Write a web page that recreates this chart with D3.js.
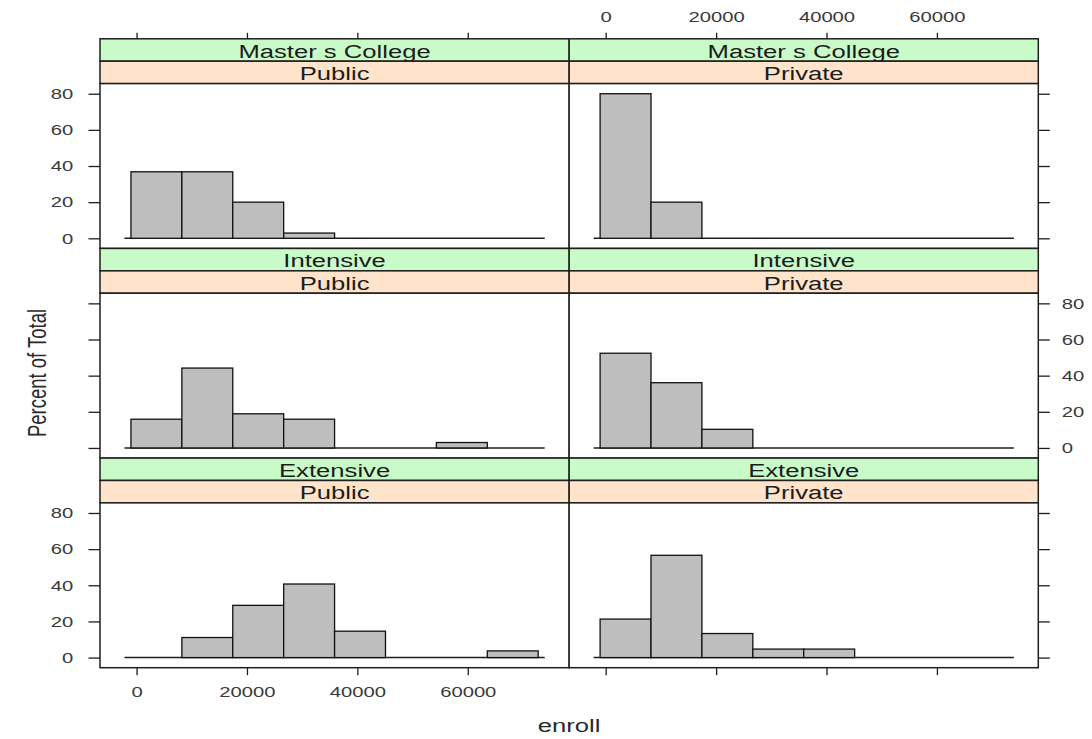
<!DOCTYPE html>
<html>
<head>
<meta charset="utf-8">
<script src="https://cdn.jsdelivr.net/npm/d3@7"></script>
<style>
  body { margin: 0; background: #fff; }
  svg { display: block; }
</style>
</head>
<body>
<svg id="chart" width="1092" height="739"></svg>
<script>
// Conditioning levels: rows (top to bottom) and columns (left to right)
const typeLevels = ["Master s College", "Intensive", "Extensive"];
const controlLevels = ["Public", "Private"];

// Shared histogram breaks for enroll
const breaks = [-1015, 8207, 17429, 26651, 35873, 45095, 54317, 63539, 72761];

// Percent of total in each bin, per panel
const pctMasterPublic     = [36.8, 36.8, 20.0, 2.9, 0, 0, 0, 0];
const pctMasterPrivate    = [80.0, 20.0, 0, 0, 0, 0, 0, 0];
const pctIntensivePublic  = [15.9, 44.2, 18.9, 15.9, 0, 0, 3.0, 0];
const pctIntensivePrivate = [52.4, 36.1, 10.3, 0, 0, 0, 0, 0];
const pctExtensivePublic  = [0, 11.1, 28.9, 40.7, 14.6, 0, 0, 3.7];
const pctExtensivePrivate = [21.3, 56.6, 13.3, 4.7, 4.7, 0, 0, 0];

// Axis ticks and titles
const xTicks = [0, 20000, 40000, 60000];
const yTicks = [0, 20, 40, 60, 80];
const xTitle = "enroll";
const yTitle = "Percent of Total";

const pctByPanel = [
  [pctMasterPublic, pctMasterPrivate],
  [pctIntensivePublic, pctIntensivePrivate],
  [pctExtensivePublic, pctExtensivePrivate]
];

// ---- appearance ----
const FONT = "'Liberation Sans', Arial, Helvetica, sans-serif";
const SX = 1.35;                 // horizontal text stretch
const INK = "#1e1e1e";
const BAR_FILL = "#bebebe";
const STRIP_TOP = "#c9fbc9";     // outer conditioning strip
const STRIP_BOTTOM = "#ffe3ca";  // inner conditioning strip

const svg = d3.select("#chart");
const box = { left: 100, right: 1038.3, top: 38.8, bottom: 667.7 };
const nRows = typeLevels.length, nCols = controlLevels.length;
const colW = (box.right - box.left) / nCols;
const rowH = (box.bottom - box.top) / nRows;
const stripH = 22.4;
const panelH = rowH - 2 * stripH;

// scales (same for all panels)
const span = breaks[breaks.length - 1] - breaks[0];
const x = d3.scaleLinear()
  .domain([breaks[0] - 0.076 * span, breaks[breaks.length - 1] + 0.076 * span])
  .range([0, colW]);
const yMax = d3.max(pctByPanel.flat(2));
const y = d3.scaleLinear()
  .domain([-0.07 * yMax, yMax * 1.07])
  .range([panelH, 0]);

const bins = d3.range(breaks.length - 1).map(i => ({ x0: breaks[i], x1: breaks[i + 1] }));

function styleAxis(g) {
  g.select(".domain").remove();
  g.selectAll(".tick line").attr("stroke", INK).attr("stroke-width", 1.3);
  g.selectAll(".tick text")
    .attr("font-family", FONT)
    .attr("font-size", 15)
    .attr("fill", "#3a3a3a");
}

typeLevels.forEach((typ, r) => {
  controlLevels.forEach((ctl, c) => {
    const pct = pctByPanel[r][c];
    const cell = svg.append("g")
      .attr("transform", `translate(${box.left + c * colW},${box.top + r * rowH})`);

    // strips
    const strips = [
      { label: typ, fill: STRIP_TOP },
      { label: ctl, fill: STRIP_BOTTOM }
    ];
    strips.forEach((s, k) => {
      cell.append("rect")
        .attr("x", 0).attr("y", k * stripH)
        .attr("width", colW).attr("height", stripH)
        .attr("fill", s.fill)
        .attr("stroke", INK).attr("stroke-width", 1.5);
      cell.append("text")
        .attr("transform", `translate(${colW / 2},${(k + 1) * stripH - 3.6}) scale(${SX},1)`)
        .attr("text-anchor", "middle")
        .attr("font-family", FONT)
        .attr("font-size", 19)
        .attr("fill", "#1c1c1c")
        .text(s.label);
    });

    // panel
    const panel = cell.append("g").attr("transform", `translate(0,${2 * stripH})`);
    panel.append("rect")
      .attr("width", colW).attr("height", panelH)
      .attr("fill", "#fff");

    // zero line across the binned range
    panel.append("line")
      .attr("x1", x(breaks[0] - 0.016 * span))
      .attr("x2", x(breaks[breaks.length - 1] + 0.016 * span))
      .attr("y1", y(0)).attr("y2", y(0))
      .attr("stroke", INK).attr("stroke-width", 1.5);

    panel.selectAll("rect.bar")
      .data(bins.map((b, i) => ({ ...b, v: pct[i] })).filter(d => d.v > 0))
      .join("rect")
      .attr("class", "bar")
      .attr("x", d => x(d.x0))
      .attr("width", d => x(d.x1) - x(d.x0))
      .attr("y", d => y(d.v))
      .attr("height", d => y(0) - y(d.v))
      .attr("fill", BAR_FILL)
      .attr("stroke", "#111")
      .attr("stroke-width", 1.3);

    panel.append("rect")
      .attr("width", colW).attr("height", panelH)
      .attr("fill", "none")
      .attr("stroke", INK).attr("stroke-width", 1.5);

    // x axes: top of first row, bottom of last row, labels alternating
    if (r === 0) {
      const showLab = (c % 2 === 1);
      const gx = cell.append("g")
        .call(d3.axisTop(x).tickValues(xTicks).tickSize(6)
          .tickFormat(showLab ? d3.format("d") : ""));
      styleAxis(gx);
      gx.selectAll(".tick text")
        .attr("y", -16.5).attr("dy", 0)
        .attr("transform", `scale(${SX},1)`);
    }
    if (r === nRows - 1) {
      const showLab = (c % 2 === 0);
      const gx = panel.append("g")
        .attr("transform", `translate(0,${panelH})`)
        .call(d3.axisBottom(x).tickValues(xTicks).tickSize(7.5)
          .tickFormat(showLab ? d3.format("d") : ""));
      styleAxis(gx);
      gx.selectAll(".tick text")
        .attr("y", 18.6).attr("dy", "0.71em")
        .attr("transform", `scale(${SX},1)`);
    }

    // y axes: left column and right column, labels alternating by row
    if (c === 0) {
      const showLab = (r % 2 === 0);
      const gy = panel.append("g")
        .call(d3.axisLeft(y).tickValues(yTicks).tickSize(11.5)
          .tickFormat(showLab ? d3.format("d") : ""));
      styleAxis(gy);
      gy.selectAll(".tick text")
        .attr("x", -26.7 / SX)
        .attr("transform", `scale(${SX},1)`);
    }
    if (c === nCols - 1) {
      const showLab = (r % 2 === 1);
      const gy = panel.append("g")
        .attr("transform", `translate(${colW},0)`)
        .call(d3.axisRight(y).tickValues(yTicks).tickSize(11.5)
          .tickFormat(showLab ? d3.format("d") : ""));
      styleAxis(gy);
      gy.selectAll(".tick text")
        .attr("x", 23.4 / SX)
        .attr("transform", `scale(${SX},1)`);
    }
  });
});

// axis titles
svg.append("text")
  .attr("transform", `translate(${(box.left + box.right) / 2},731.5) scale(${SX},1)`)
  .attr("text-anchor", "middle")
  .attr("font-family", FONT)
  .attr("font-size", 19)
  .attr("fill", "#2a2a2a")
  .text(xTitle);

svg.append("text")
  .attr("transform", `translate(37,373) scale(${SX},1) rotate(-90)`)
  .attr("text-anchor", "middle")
  .attr("dy", "0.35em")
  .attr("font-family", FONT)
  .attr("font-size", 18.5)
  .attr("fill", "#2a2a2a")
  .text(yTitle);
</script>
</body>
</html>
